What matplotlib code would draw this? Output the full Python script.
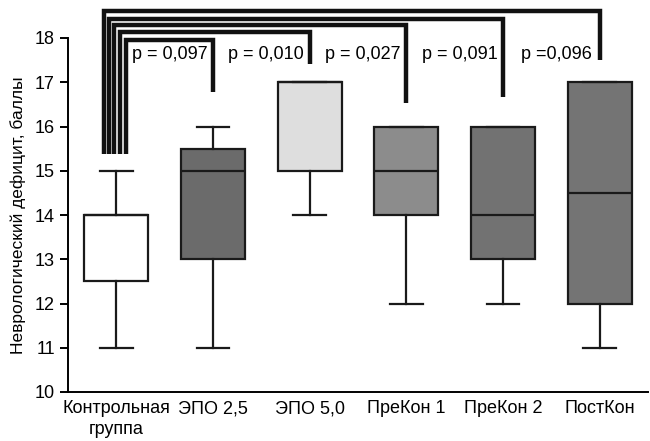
import matplotlib
matplotlib.use("Agg")
import matplotlib.pyplot as plt

plt.rcParams['font.family'] = ['Liberation Sans Narrow', 'Liberation Sans', 'DejaVu Sans']

groups = ["Контрольная\nгруппа", "ЭПО 2,5", "ЭПО 5,0", "ПреКон 1", "ПреКон 2", "ПостКон"]
whislo = [11, 11, 14, 12, 12, 11]
q1 = [12.5, 13, 15, 14, 13, 12]
med = [14, 15, 17, 15, 14, 14.5]
q3 = [14, 15.5, 17, 16, 16, 17]
whishi = [15, 16, 17, 16, 16, 17]
fills = ["#ffffff", "#6b6b6b", "#dedede", "#8c8c8c", "#727272", "#747474"]

# comparisons: control vs group k
p_values = ["p = 0,097", "p = 0,010", "p = 0,027", "p = 0,091", "p =0,096"]
bracket_top = [17.96, 18.14, 18.30, 18.44, 18.60]
bracket_right_end = [16.79, 17.42, 16.52, 16.67, 17.51]
bracket_left_x = [0.10, 0.04, -0.02, -0.072, -0.124]

fig = plt.figure(figsize=(6.5, 4.41), dpi=100)
ax = fig.add_axes([68/650, 1-392/441, 580/650, 354/441])

stats = []
for i in range(len(groups)):
    stats.append(dict(whislo=whislo[i], q1=q1[i], med=med[i], q3=q3[i], whishi=whishi[i]))

bp = ax.bxp(stats, positions=range(len(groups)), widths=0.66, patch_artist=True,
            showfliers=False,
            boxprops=dict(edgecolor="#1a1a1a", linewidth=1.6),
            medianprops=dict(color="#1a1a1a", linewidth=1.6),
            whiskerprops=dict(color="#1a1a1a", linewidth=1.6),
            capprops=dict(color="#1a1a1a", linewidth=1.6),
            capwidths=0.34)
for patch, c in zip(bp['boxes'], fills):
    patch.set_facecolor(c)

for k in range(len(p_values)):
    xr = k + 1
    ax.plot([bracket_left_x[k], bracket_left_x[k], xr, xr],
            [15.38, bracket_top[k], bracket_top[k], bracket_right_end[k]],
            color="#111111", linewidth=3.2, solid_joinstyle="miter",
            solid_capstyle="butt", clip_on=False, zorder=5)
    ax.text(k + 0.55, 17.62, p_values[k], ha="center", va="center", fontsize=13)

ax.set_xlim(-0.5, 5.5)
ax.set_ylim(10, 18)
ax.set_yticks(range(10, 19))
ax.set_xticks(range(len(groups)))
ax.set_xticklabels(groups, fontsize=13, linespacing=1.25)
ax.tick_params(axis='y', labelsize=13, length=6, width=1.4, direction='out')
ax.tick_params(axis='x', length=0, pad=6)
ax.spines['top'].set_visible(False)
ax.spines['right'].set_visible(False)
ax.spines['left'].set_linewidth(1.4)
ax.spines['bottom'].set_linewidth(1.4)
ax.set_ylabel("Неврологический дефицит, баллы", fontsize=12.5, labelpad=6)

fig.savefig("out.png", dpi=100)
